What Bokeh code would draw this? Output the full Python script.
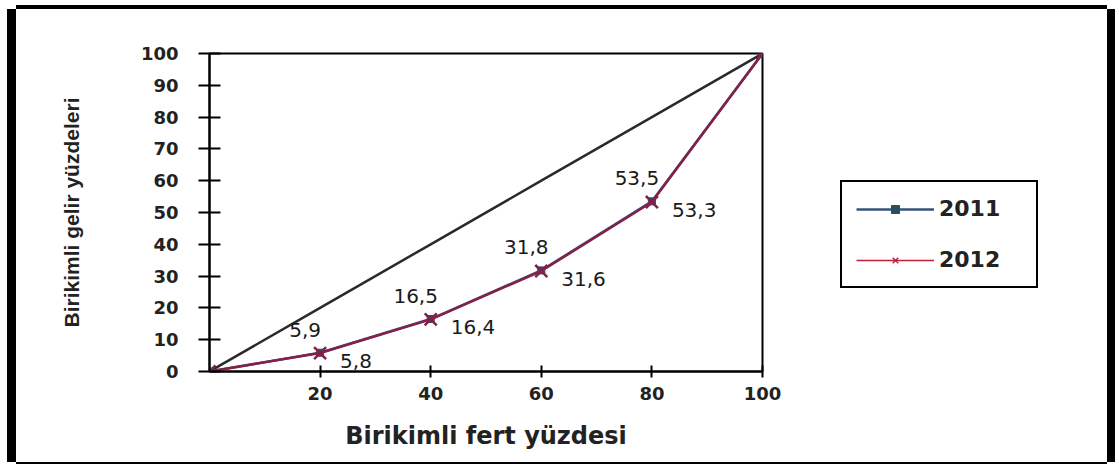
from bokeh.plotting import figure
from bokeh.layouts import row
from bokeh.models import ColumnDataSource, FixedTicker, Legend, LegendItem, LabelSet
from bokeh.core.properties import value
from bokeh.embed import file_html
from bokeh.resources import INLINE

# ---- data ----
population = [0, 20, 40, 60, 80, 100]
equality = [0, 20, 40, 60, 80, 100]
income_2011 = [0, 5.9, 16.5, 31.8, 53.5, 100]
income_2012 = [0, 5.8, 16.4, 31.6, 53.3, 100]
x_ticks = [20, 40, 60, 80, 100]
y_ticks = [0, 10, 20, 30, 40, 50, 60, 70, 80, 90, 100]
series_names = ["2011", "2012"]
x_title = "Birikimli fert yüzdesi"
y_title = "Birikimli gelir yüzdeleri"

def fmt(v):
    return f"{v:.1f}".replace(".", ",")

lab11 = ColumnDataSource(dict(x=population[1:-1], y=income_2011[1:-1],
                              t=[fmt(v) for v in income_2011[1:-1]]))
lab12 = ColumnDataSource(dict(x=population[1:-1], y=income_2012[1:-1],
                              t=[fmt(v) for v in income_2012[1:-1]]))

C11 = "#34557A"
C11M = "#2B4F60"
C12 = "#86204A"
TICK_FONT = "DejaVu Sans"

fig = figure(width=776, height=453, output_backend="svg", toolbar_location=None,
             x_range=(0, 100), y_range=(0, 100),
             min_border_left=193, min_border_right=30, min_border_top=44, min_border_bottom=91)
fig.background_fill_color = "white"
fig.border_fill_color = "white"
fig.grid.visible = False
fig.outline_line_color = "black"
fig.outline_line_width = 2
fig.outline_line_alpha = 1.0

# equality line
fig.line(population, equality, line_color="#2a2a2a", line_width=2.5)

fig.line(population, income_2011, line_color=C11, line_width=2.5)
fig.scatter(population, income_2011, marker="square", size=7,
            fill_color=C11M, line_color=C11M)
fig.line(population, income_2012, line_color=C12, line_width=2.5)
fig.scatter(population, income_2012, marker="x", size=17,
            line_color=C12, line_width=2.5)

# axes
for ax in (fig.xaxis[0], fig.yaxis[0]):
    ax.axis_line_color = "black"
    ax.axis_line_width = 2
    ax.major_tick_line_color = "black"
    ax.major_tick_line_width = 2
    ax.minor_tick_line_color = None
    ax.major_label_text_font = TICK_FONT
    ax.major_label_text_font_style = "bold"
    ax.major_label_text_font_size = "18px"
    ax.major_label_text_color = "#222222"
    ax.axis_label_text_color = "#222222"

fig.xaxis.ticker = FixedTicker(ticks=x_ticks)
fig.yaxis.ticker = FixedTicker(ticks=y_ticks)
fig.xaxis.major_tick_in = 6
fig.xaxis.major_tick_out = 6
fig.yaxis.major_tick_in = 11
fig.yaxis.major_tick_out = 11
fig.xaxis.major_label_standoff = 9
fig.yaxis.major_label_standoff = 20

fig.xaxis.axis_label = x_title
fig.xaxis.axis_label_text_font = "DejaVu Sans"
fig.xaxis.axis_label_text_font_style = "bold"
fig.xaxis.axis_label_text_font_size = "24px"
fig.xaxis.axis_label_standoff = 19

fig.yaxis.axis_label = y_title
fig.yaxis.axis_label_text_font = "Liberation Sans"
fig.yaxis.axis_label_text_font_style = "bold"
fig.yaxis.axis_label_text_font_size = "21px"
fig.yaxis.axis_label_standoff = 55

# data labels
fig.add_layout(LabelSet(x="x", y="y", text="t", source=lab11, x_offset=-15, y_offset=23,
                        text_align="center", text_baseline="middle",
                        text_font=value("DejaVu Sans"), text_font_size="20px",
                        text_color="#1a1a1a"))
fig.add_layout(LabelSet(x="x", y="y", text="t", source=lab12, x_offset=20, y_offset=-8,
                        text_align="left", text_baseline="middle",
                        text_font=value("DejaVu Sans"), text_font_size="20px",
                        text_color="#1a1a1a"))

# ---- legend panel (separate canvas to the right, same series styles) ----
leg = figure(width=315, height=453, output_backend="svg", toolbar_location=None,
             x_range=(200, 300), y_range=(200, 300),
             x_axis_location=None, y_axis_location=None, min_border=0)
leg.grid.visible = False
leg.outline_line_color = None
leg.background_fill_color = "white"
leg.border_fill_color = "white"
l11 = leg.line(population, income_2011, line_color=C11, line_width=2.5)
m11 = leg.scatter(population, income_2011, marker="square", size=8,
                  fill_color=C11M, line_color=C11M)
l12 = leg.line(population, income_2012, line_color="#C0203A", line_width=1.5)
m12 = leg.scatter(population, income_2012, marker="x", size=18,
                  line_color="#C0203A", line_width=1.5)

legend = Legend(items=[LegendItem(label=series_names[0], renderers=[l11, m11]),
                       LegendItem(label=series_names[1], renderers=[l12, m12])],
                location=(48, 83), orientation="vertical",
                padding=14, spacing=26, glyph_width=78, glyph_height=20,
                label_standoff=5, label_width=83, label_height=20,
                label_text_font="DejaVu Sans", label_text_font_style="bold",
                label_text_font_size="22px", label_text_color="#222222",
                border_line_color="black", border_line_width=2, border_line_alpha=1.0,
                background_fill_color="white", background_fill_alpha=1.0,
                margin=0)
leg.add_layout(legend, "center")

p = row(fig, leg, spacing=0)
p.margin = (9, 0, 0, 16)
p.styles = {"box-shadow": "-9px 0 0 0 black, 8px 0 0 0 black, 0 -4px 0 0 black, 0 2px 0 0 black"}

open("out.html", "w").write(file_html(p, INLINE))
